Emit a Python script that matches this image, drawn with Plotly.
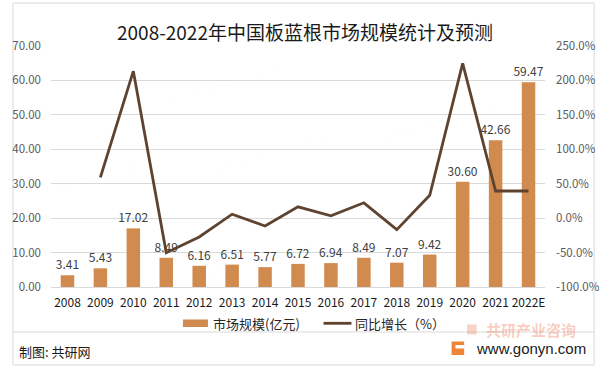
import plotly.graph_objects as go

# ---- data ----
years = ["2008", "2009", "2010", "2011", "2012", "2013", "2014", "2015",
         "2016", "2017", "2018", "2019", "2020", "2021", "2022E"]
market_size = [3.41, 5.43, 17.02, 8.49, 6.16, 6.51, 5.77, 6.72,
               6.94, 8.49, 7.07, 9.42, 30.60, 42.66, 59.47]
growth_pct = [None, 59.2, 213.4, -50.1, -27.4, 5.7, -11.4, 16.5,
              3.3, 22.3, -16.7, 33.2, 224.8, 39.4, 39.4]
left_ticks = [0, 10, 20, 30, 40, 50, 60, 70]
right_ticks = [-100, -50, 0, 50, 100, 150, 200, 250]

title_text = "2008-2022年中国板蓝根市场规模统计及预测"
bar_name = "市场规模(亿元)"
line_name = "同比增长（%）"

BAR_COLOR = "#D28B4E"
LINE_COLOR = "#5E4330"
GRID = "#D9D9D9"
CJK = "Noto Sans CJK SC"

W, H = 612, 372
L, R, T, B = 42, 555, 46, 287


def px(x):
    return (x - L) / (R - L)


def py(y):
    return (B - y) / (B - T)


fig = go.Figure()
fig.add_trace(go.Bar(
    x=years, y=market_size, name=bar_name,
    marker=dict(color=BAR_COLOR, line=dict(width=0)),
    width=0.41,
    texttemplate="%{y:.2f}", textposition="outside", constraintext="none",
    textfont=dict(family=CJK, size=12, color="#404040"),
    cliponaxis=False, showlegend=False,
))
fig.add_trace(go.Scatter(
    x=years, y=growth_pct, name=line_name, yaxis="y2",
    mode="lines", line=dict(color=LINE_COLOR, width=2.8),
    connectgaps=False, showlegend=False,
))

annotations = []
shapes = []

# title
annotations.append(dict(text=title_text, x=px(306), y=py(31), xref="paper", yref="paper",
                        showarrow=False, xanchor="center", yanchor="middle",
                        font=dict(family=CJK, size=19, color="#1A1A1A")))

# faint watermarks
wm_spots = [(150, 36), (265, 128), (22, 150), (500, 72), (180, 258), (375, 262), (585, 192)]
for (wx, wy) in wm_spots:
    annotations.append(dict(text="<b>共研网</b>", x=px(wx), y=py(wy), xref="paper", yref="paper",
                            showarrow=False, textangle=-15,
                            font=dict(family=CJK, size=30, color="rgba(0,0,0,0.022)")))
    annotations.append(dict(text="w w w . g o n y n . c o m", x=px(wx + 8), y=py(wy + 25),
                            xref="paper", yref="paper", showarrow=False, textangle=-15,
                            font=dict(family="Liberation Sans", size=11, color="rgba(0,0,0,0.035)")))

# outer border and separator
shapes.append(dict(type="rect", xref="paper", yref="paper", x0=px(2.5), x1=px(606), y0=py(3), y1=py(365),
                   line=dict(color=GRID, width=1), fillcolor="rgba(0,0,0,0)", layer="below"))
shapes.append(dict(type="line", xref="paper", yref="paper", x0=px(2.5), x1=px(606), y0=py(332), y1=py(332),
                   line=dict(color=GRID, width=1)))

# custom legend
shapes.append(dict(type="rect", xref="paper", yref="paper", x0=px(179), x1=px(205), y0=py(319.5), y1=py(327),
                   fillcolor=BAR_COLOR, line=dict(width=0)))
annotations.append(dict(text=bar_name, x=px(208), y=py(323.5), xref="paper", yref="paper",
                        showarrow=False, xanchor="left", yanchor="middle",
                        font=dict(family=CJK, size=13, color="#262626")))
shapes.append(dict(type="line", xref="paper", yref="paper", x0=px(325), x1=px(354), y0=py(323.3), y1=py(323.3),
                   line=dict(color=LINE_COLOR, width=2.8)))
annotations.append(dict(text=line_name, x=px(356), y=py(323.5), xref="paper", yref="paper",
                        showarrow=False, xanchor="left", yanchor="middle",
                        font=dict(family=CJK, size=13, color="#262626")))

# footer
annotations.append(dict(text="制图: 共研网", x=px(6.5), y=py(351.5), xref="paper", yref="paper",
                        showarrow=False, xanchor="left", yanchor="middle",
                        font=dict(family=CJK, size=13, color="#1A1A1A")))
# faded brand text
shapes.append(dict(type="rect", xref="paper", yref="paper", x0=px(474), x1=px(484), y0=py(324.5), y1=py(334.5),
                   fillcolor="rgba(240,110,70,0.30)", line=dict(width=0)))
annotations.append(dict(text="<b>共研产业咨询</b>", x=px(540), y=py(329.5), xref="paper", yref="paper",
                        showarrow=False, xanchor="center", yanchor="middle",
                        font=dict(family=CJK, size=15, color="rgba(240,110,70,0.35)")))
# logo icon
shapes.append(dict(type="rect", xref="paper", yref="paper", x0=px(458), x1=px(471), y0=py(341.5), y1=py(355),
                   fillcolor="#F08436", line=dict(width=0)))
shapes.append(dict(type="rect", xref="paper", yref="paper", x0=px(462), x1=px(471), y0=py(345), y1=py(348.5),
                   fillcolor="white", line=dict(width=0)))
annotations.append(dict(text="www.gonyn.com", x=px(481.5), y=py(348.8), xref="paper", yref="paper",
                        showarrow=False, xanchor="left", yanchor="middle",
                        font=dict(family="Liberation Sans", size=15, color="#1A1A1A")))

fig.update_layout(
    width=W, height=H,
    margin=dict(l=L, r=W - R, t=T, b=H - B, pad=0),
    paper_bgcolor="white", plot_bgcolor="white",
    showlegend=False,
    bargap=0.59,
    xaxis=dict(type="category", showgrid=False, showline=False, zeroline=False, ticks="",
               tickfont=dict(family=CJK, size=12, color="#1A1A1A"), ticklabelstandoff=7),
    yaxis=dict(range=[0, 70], tickvals=left_ticks, ticktext=[f"{v:.2f}" for v in left_ticks],
               showgrid=True, gridcolor=GRID, gridwidth=1, zeroline=True, zerolinecolor=GRID,
               zerolinewidth=1, showline=False, ticks="",
               tickfont=dict(family=CJK, size=11.5, color="#595959"), ticklabelstandoff=9),
    yaxis2=dict(range=[-100, 250], tickvals=right_ticks, ticktext=[f"{v:.1f}%" for v in right_ticks],
                overlaying="y", side="right", showgrid=False, zeroline=False, showline=False, ticks="",
                tickfont=dict(family=CJK, size=11.5, color="#595959"), ticklabelstandoff=10),
    annotations=annotations,
    shapes=shapes,
)

fig.write_html("out.html", config={"displayModeBar": False},
               post_script="document.body.style.margin='0';document.body.style.padding='0';")
